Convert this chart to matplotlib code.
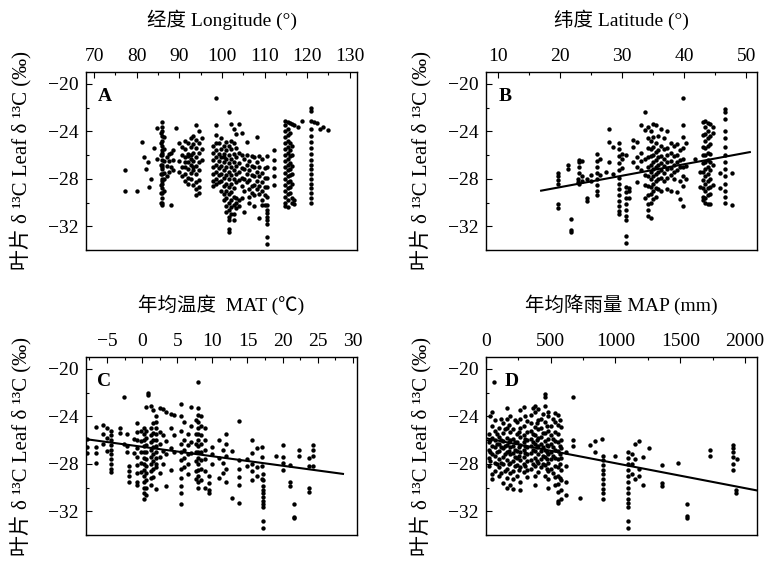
import matplotlib
matplotlib.use("Agg")
import matplotlib.pyplot as plt
from matplotlib.ticker import MultipleLocator, FixedLocator

plt.rcParams['font.family'] = ['Liberation Serif', 'Noto Sans CJK SC']

# leaf d13C, grouped as (x, [d13C values]) columns
lon_cols = [
    (77.3, [-27.3, -29.0]), (80.0, [-29.0]), (81.2, [-24.9]), (81.7, [-26.2]),
    (82.2, [-27.2]), (82.6, [-26.6]), (82.8, [-28.7]), (83.3, [-28.0]),
    (84.1, [-25.4]), (84.7, [-23.7, -26.3]),
    (85.6, [-24.1, -25.0, -26.0, -26.8, -27.6, -28.5, -29.2, -30.0]),
    (85.9, [-23.2, -23.6, -24.0, -24.4, -24.8, -25.2, -25.6, -26.0, -26.4, -26.8, -27.2,
            -27.6, -28.0, -28.4, -28.8, -29.2, -29.6, -30.0, -30.2, -28.2, -27.0, -25.8]),
    (86.4, [-24.5, -25.5, -26.5, -27.5, -28.0, -29.0]), (87.0, [-26.2, -27.8, -26.9]),
    (87.5, [-25.9, -27.4, -26.5]), (88.0, [-30.2, -25.8, -27.0]), (88.5, [-27.3, -26.4, -25.6]),
    (89.3, [-23.7]), (90.0, [-25.0, -26.5, -27.4]), (90.6, [-25.3, -26.0, -27.0, -27.8]),
    (91.3, [-24.8, -25.5, -26.2, -27.0, -27.6, -28.2, -26.6]),
    (92.0, [-25.0, -25.9, -26.6, -27.2, -27.9, -28.4, -26.1]),
    (92.7, [-24.6, -25.3, -26.0, -26.8, -27.5, -28.0, -26.3]),
    (93.3, [-25.1, -25.8, -26.5, -27.3, -27.0, -28.5, -24.4]),
    (94.0, [-23.5, -24.7, -25.4, -26.2, -26.9, -27.6, -28.3, -28.9, -29.4]),
    (94.6, [-24.0, -25.0, -25.8, -26.6, -27.3, -28.1, -28.7, -29.2]),
    (95.3, [-24.6, -25.5, -26.4]),
    (98.0, [-25.2, -25.8, -26.4, -27.0, -27.6, -28.2, -28.6]),
    (98.6, [-21.2, -23.5, -24.3, -25.0, -25.6, -26.2, -26.8, -27.4, -28.0, -28.4]),
    (99.2, [-25.0, -25.9, -26.5, -27.1, -27.7, -28.3]),
    (99.8, [-24.6, -25.5, -26.2, -26.9, -27.6, -28.2, -29.0]),
    (100.4, [-25.2, -25.9, -26.6, -27.3, -27.9, -28.6, -29.3, -29.8, -26.2]),
    (101.0, [-24.9, -25.6, -26.3, -27.0, -27.7, -28.4, -29.0, -29.6, -30.3, -30.8]),
    (101.6, [-22.4, -25.2, -26.0, -26.7, -27.4, -28.0, -28.7, -29.3, -30.0, -30.6, -31.2,
             -31.5, -32.2, -32.5]),
    (102.2, [-23.4, -24.8, -25.5, -26.3, -27.0, -27.7, -28.4, -29.1, -29.8, -30.4, -31.0]),
    (102.8, [-23.8, -25.0, -25.9, -26.6, -27.3, -28.0, -28.8, -29.5, -30.2, -31.0, -31.5]),
    (103.4, [-24.2, -25.4, -26.2, -26.9, -27.6, -28.3, -29.6, -30.0, -30.5]),
    (104.0, [-23.4, -25.8, -26.7, -27.4, -28.1, -29.8, -30.3]),
    (104.6, [-24.1, -26.0, -27.1, -27.9, -28.6, -29.6]),
    (105.2, [-26.3, -27.2, -28.0, -29.0, -30.8]),
    (105.8, [-24.9, -26.0, -26.8, -27.6, -28.3]),
    (106.4, [-26.5, -27.3, -28.1, -28.9, -29.5, -30.0]),
    (107.0, [-26.1, -26.9, -27.7, -28.6, -29.2]),
    (107.6, [-26.2, -27.0, -27.8, -28.5, -29.4, -30.3]),
    (108.2, [-24.5, -26.6, -27.4, -28.2, -28.9]),
    (108.8, [-26.1, -27.0, -27.8, -28.6, -29.3, -31.3]),
    (109.4, [-26.3, -27.5, -28.3, -29.0, -29.8, -30.2]),
    (110.0, [-27.1, -27.9, -28.7, -29.4, -30.2]),
    (110.6, [-26.1, -27.0, -27.9, -28.7, -29.5, -30.2, -30.6, -30.9, -31.2, -31.5, -31.8,
             -32.9, -33.5]),
    (112.3, [-25.6, -26.4, -27.1, -27.8, -28.5]),
    (114.9, [-23.1, -23.5, -24.0, -24.5, -25.0, -25.5, -26.0, -26.5, -27.0, -27.5, -28.0,
             -28.5, -29.0, -29.5, -30.0, -30.3]),
    (115.4, [-23.2, -23.8, -24.3, -24.8, -25.3, -25.8, -26.3, -26.8, -27.3, -27.8, -28.3,
             -28.8, -29.3, -29.8, -30.4]),
    (115.9, [-23.3, -24.1, -25.0, -25.6, -26.1, -26.7, -27.2, -27.7, -28.2, -28.7, -29.2]),
    (116.4, [-23.4, -25.2, -26.0, -26.9, -27.6, -28.4, -29.6, -30.0]),
    (116.8, [-29.8, -30.1, -23.5]), (117.8, [-23.6]), (118.8, [-23.1]),
    (120.9, [-22.0, -22.3, -23.1, -23.8, -24.4, -24.9, -25.4, -25.9, -26.4, -26.8, -27.2,
             -27.6, -28.0, -28.4, -28.8, -29.2, -29.6, -30.0]),
    (121.6, [-23.2]), (122.2, [-23.3]), (123.1, [-23.8]), (123.7, [-23.6]), (125.0, [-23.9]),
]

lat_cols = [
    (19.7, [-27.5, -27.8, -28.1, -28.4, -30.1, -30.5]), (21.3, [-26.8, -27.2]),
    (21.7, [-31.4, -32.3, -32.5]), (22.8, [-28.3, -28.0]),
    (23.0, [-26.4, -26.6, -27.0, -27.5, -28.4]), (23.5, [-26.5, -27.8, -28.2]),
    (24.3, [-29.6, -29.9, -28.0]), (24.9, [-28.2, -27.7]),
    (26.0, [-25.9, -26.5, -27.0, -27.5, -28.0, -28.5, -29.0, -29.4]), (26.4, [-26.3, -27.7]),
    (27.4, [-27.4]), (27.9, [-23.8, -24.9, -26.6]), (28.5, [-25.3, -27.6]),
    (29.5, [-25.0, -25.5, -26.1, -26.7, -27.3, -27.9, -28.4, -28.9, -29.4, -29.9, -30.3,
            -30.7, -31.0]),
    (29.9, [-25.9, -26.3, -27.1]),
    (30.6, [-28.7, -29.1, -29.6, -30.1, -30.6, -31.1, -31.5, -32.8, -33.4, -26.0]),
    (31.1, [-28.8, -29.0, -29.6]), (31.8, [-24.7, -25.3, -26.6]),
    (32.4, [-24.9, -26.2, -27.0, -28.3]), (33.0, [-23.5, -25.8, -26.5, -27.3]),
    (33.7, [-22.4, -23.9, -26.3, -27.7, -28.5, -29.6]),
    (34.2, [-23.6, -24.6, -25.4, -26.2, -27.0, -27.8, -28.6, -29.4, -30.1, -30.6, -31.1]),
    (34.6, [-24.0, -24.8, -25.5, -26.1, -26.8, -27.4, -28.0, -28.7, -29.3, -30.0, -31.3]),
    (35.0, [-23.4, -24.5, -25.3, -26.0, -26.6, -27.2, -27.8, -28.4, -29.0, -29.7]),
    (35.4, [-23.5, -25.0, -25.7, -26.4, -27.0, -27.6, -28.2, -28.8, -29.5]),
    (35.8, [-24.4, -25.6, -26.2, -26.8, -27.4, -28.0, -28.9]),
    (36.3, [-23.8, -25.2, -26.1, -26.7, -27.3, -27.9, -29.0]),
    (36.8, [-24.6, -25.5, -26.3, -26.9, -27.5, -28.2]),
    (37.3, [-24.0, -25.4, -26.0, -26.6, -27.2, -27.9, -28.9]),
    (37.8, [-25.0, -25.8, -26.5, -27.1, -27.7, -29.0]),
    (38.3, [-25.2, -26.1, -26.8, -27.4, -28.0]),
    (38.8, [-25.1, -26.0, -26.6, -27.3, -29.1]),
    (39.3, [-25.6, -26.4, -27.0, -28.2, -29.7]),
    (39.8, [-21.2, -23.5, -24.5, -25.4, -26.3, -27.0, -27.8, -28.6, -30.3]),
    (40.3, [-25.0, -26.9, -28.0]), (41.8, [-26.3]), (42.6, [-28.7, -27.4]),
    (43.0, [-23.2, -24.3, -25.3, -26.0, -26.7, -27.4, -28.1, -28.8, -29.5, -29.8]),
    (43.4, [-23.1, -23.6, -24.2, -24.8, -25.4, -26.0, -26.6, -27.2, -27.8, -28.4, -29.0,
            -29.6, -30.0]),
    (43.8, [-23.3, -24.0, -24.6, -25.2, -25.8, -26.4, -27.0, -27.6, -28.2, -28.8, -29.4,
            -30.1]),
    (44.2, [-23.4, -24.4, -25.1, -25.9, -26.6, -27.3, -28.0, -28.7, -29.3, -30.1]),
    (44.7, [-23.6, -24.1, -26.8, -28.5]), (45.8, [-27.5, -28.8]),
    (46.6, [-22.1, -22.4, -23.0, -24.0, -24.6, -25.3, -26.0, -26.6, -27.2, -27.8, -28.4,
            -29.0, -29.5, -30.0]),
    (47.7, [-27.5, -30.2]),
]

mat_cols = [
    (-7.8, [-25.9, -26.6, -27.1]), (-6.6, [-24.9, -26.6, -27.1, -27.9]),
    (-5.6, [-24.7, -25.5, -26.3]), (-5.0, [-25.0, -25.8, -26.9]),
    (-4.4, [-25.2, -25.6, -26.0, -26.4, -26.8, -27.2, -27.6, -28.0, -28.4, -28.7]),
    (-3.2, [-25.0, -25.4]), (-2.6, [-22.4, -26.3]), (-2.2, [-25.5, -26.5, -27.0]),
    (-1.9, [-28.2, -28.6, -29.0, -29.5]), (-1.2, [-25.9, -27.1]),
    (-0.8, [-24.6, -25.3, -26.0, -26.7, -27.4, -28.1, -28.8, -29.5, -29.8]),
    (-0.2, [-25.2, -26.1, -27.0, -27.9, -28.7]),
    (0.2, [-25.0, -25.5, -26.0, -26.5, -27.0, -27.5, -28.0, -28.5, -29.0, -29.5, -30.0,
           -30.5, -31.0]),
    (0.6, [-23.2, -25.2, -25.8, -26.4, -27.0, -27.6, -28.2, -28.8, -29.4, -30.0, -30.6]),
    (0.8, [-22.0, -22.2]),
    (1.2, [-23.1, -25.0, -25.6, -26.2, -26.8, -27.4, -28.0, -28.6, -29.2, -29.8]),
    (1.6, [-23.5, -24.6, -25.4, -26.0, -26.6, -27.2, -27.8, -28.4, -29.1]),
    (2.0, [-24.0, -24.5, -25.0, -25.5, -26.0, -26.5, -27.0, -27.5, -28.0, -28.3, -30.1]),
    (2.5, [-23.3, -25.3, -26.3, -27.4, -28.8]), (3.0, [-23.4, -25.6, -26.9, -28.0]),
    (3.4, [-23.6, -26.1, -27.2, -29.9]), (4.1, [-23.8, -25.0, -26.7, -28.5]),
    (4.6, [-23.9, -25.6, -27.0]),
    (5.5, [-23.0, -24.0, -25.2, -26.3, -27.0, -27.7, -28.4, -29.2, -29.9, -30.5, -31.4]),
    (6.0, [-24.5, -26.0, -26.8, -27.5, -28.3]), (6.5, [-25.5, -26.4, -27.2, -28.0, -28.9]),
    (6.9, [-23.2, -24.8, -26.2, -27.1]),
    (7.6, [-24.3, -25.5, -26.3, -27.0, -27.8, -28.6, -29.3]),
    (8.0, [-21.1, -23.3, -23.9, -24.5, -25.0, -25.5, -26.0, -26.5, -27.0, -27.5, -28.0,
           -28.5, -29.0, -29.5, -30.0]),
    (8.4, [-24.0, -24.8, -25.6, -26.3, -27.0, -27.7, -28.4, -29.4]),
    (9.0, [-25.0, -26.0, -26.8, -27.6, -28.6, -30.0]), (9.5, [-29.0, -29.6, -30.2, -30.5]),
    (10.0, [-26.6, -27.2, -28.0]), (10.9, [-26.0, -27.5, -29.2]),
    (11.5, [-26.8, -27.9, -28.8]), (12.0, [-25.5, -26.3, -27.3, -28.4, -29.5]),
    (12.8, [-26.9, -30.9]), (13.8, [-24.4, -27.7, -28.4, -29.1, -29.8, -31.3]),
    (15.0, [-27.6, -28.2]), (15.6, [-26.0, -27.1, -28.0, -28.6, -29.4]),
    (16.4, [-26.7, -28.3, -29.0]), (17.0, [-26.6, -27.4, -28.2, -29.3]),
    (17.2, [-28.9, -29.4, -29.9, -30.2, -30.5, -30.8, -31.1, -31.4, -31.6, -32.8, -33.4]),
    (19.1, [-27.3]), (20.0, [-26.4, -27.4, -27.9, -28.5]), (21.0, [-28.1, -29.5, -29.9]),
    (21.6, [-31.4, -32.5, -32.6]), (22.4, [-26.8, -27.3]),
    (23.8, [-27.5, -28.2, -30.0, -30.4]), (24.4, [-26.4, -26.8, -27.3, -28.2]),
]

map_cols = [
    (20, [-25.5, -26.2, -26.8, -27.5, -28.2]), (64, [-21.1]),
    (30, [-24.0, -26.0, -27.0, -27.8]),
    (45, [-23.6, -24.8, -25.8, -26.5, -27.2, -28.9, -29.3]),
    (70, [-24.3, -25.2, -26.0, -26.6, -27.3, -27.9, -28.6]),
    (85, [-25.5, -26.3, -27.0, -28.0]),
    (100, [-25.0, -25.7, -26.3, -26.9, -27.6, -28.3, -29.0]),
    (115, [-24.2, -26.0, -26.6, -27.9, -28.8]),
    (130, [-24.6, -25.4, -26.1, -26.7, -27.4, -28.0, -29.6]),
    (145, [-25.1, -26.5, -27.2, -28.6]),
    (160, [-23.3, -24.2, -25.0, -25.8, -26.4, -27.0, -27.7, -28.4, -29.2, -30.0]),
    (175, [-24.7, -26.2, -26.9, -28.0]),
    (185, [-24.0, -25.3, -26.0, -26.6, -27.2, -27.9, -28.8, -29.8]),
    (210, [-25.1, -25.9, -26.5, -27.1, -27.8, -28.6, -29.3, -30.1]),
    (225, [-24.3, -26.2, -26.8, -27.4, -28.2]),
    (240, [-24.5, -25.5, -26.2, -26.9, -27.5, -28.1, -29.0]),
    (255, [-25.3, -26.6, -27.3, -28.5]),
    (265, [-23.5, -24.2, -25.0, -25.7, -26.4, -27.0, -27.7, -28.3, -29.5, -30.2]),
    (290, [-23.2, -24.8, -25.6, -26.2, -26.8, -27.4, -28.0, -28.7]),
    (305, [-24.0, -25.9, -26.5, -27.1, -28.2]),
    (320, [-24.4, -25.3, -26.0, -26.6, -27.2, -27.8, -28.5, -29.1]),
    (345, [-23.9, -24.6, -25.2, -25.9, -26.5, -27.1, -27.7, -28.4]),
    (360, [-23.3, -25.5, -26.2, -26.8, -28.0]),
    (375, [-23.1, -23.6, -24.9, -25.6, -26.3, -26.9, -27.5, -28.2, -29.0, -29.8]),
    (390, [-24.6, -26.0, -26.6, -27.8]),
    (400, [-23.4, -24.3, -25.1, -25.8, -26.5, -27.2, -27.9, -28.7]),
    (425, [-24.2, -25.0, -25.7, -26.3, -26.9, -27.6, -28.3]),
    (440, [-23.8, -25.4, -26.6, -27.3, -28.0]),
    (455, [-22.1, -22.4, -23.1, -24.5, -25.4, -26.1, -26.8, -27.4, -28.1, -29.0]),
    (470, [-24.8, -26.4, -27.0, -27.6, -28.4]),
    (480, [-23.6, -24.0, -25.2, -25.9, -26.5, -27.2, -27.9, -28.6, -29.3, -30.0]),
    (505, [-24.8, -25.6, -26.3, -27.0, -27.6, -28.4]),
    (520, [-24.2, -25.9, -26.6, -27.3, -28.8]),
    (530, [-23.7, -24.5, -25.3, -26.1, -26.8, -27.5, -28.2, -29.1, -29.8]),
    (555, [-23.9, -24.7, -25.5, -26.2, -26.9, -27.6, -28.3, -29.0, -29.7, -30.4, -31.1,
           -31.3]),
    (570, [-24.3, -26.5, -27.2, -28.0, -29.2]),
    (580, [-24.9, -26.0, -26.7, -27.5, -28.5, -29.4, -30.2, -31.0]),
    (620, [-27.0, -28.2, -29.5, -30.6]), (675, [-22.4, -26.0, -26.5]), (725, [-30.9]),
    (803, [-26.4]), (840, [-26.1, -27.0]), (893, [-25.9]),
    (906, [-27.3, -27.7, -28.1, -28.5, -28.9, -29.3, -29.7, -30.1, -30.5, -31.0]),
    (996, [-27.3]),
    (1099, [-27.0, -27.5, -28.0, -28.5, -29.0, -29.5, -30.0, -30.5, -31.0, -31.3, -31.6,
            -32.8, -33.4]),
    (1125, [-27.2, -28.0, -28.9]), (1150, [-26.3, -27.6, -29.3]), (1180, [-26.1, -28.4, -29.0]),
    (1215, [-27.4, -29.8]), (1261, [-26.7]), (1356, [-28.1, -29.6, -29.9]),
    (1485, [-27.9]), (1550, [-31.4, -32.4, -32.6]), (1730, [-26.8, -27.3]),
    (1910, [-26.4, -26.7, -27.0, -27.4, -28.0, -28.5]), (1935, [-27.6]),
    (1930, [-30.2, -30.5]),
]

fit_lat = ([16.9, 50.6], [-29.0, -25.75])
fit_mat = ([-7.8, 28.6], [-25.94, -28.85])
fit_map = ([0, 2095], [-25.85, -30.25])

titles = ['经度 Longitude (°)', '纬度 Latitude (°)', '年均温度  MAT (℃)', '年均降雨量 MAP (mm)']
letters = ['A', 'B', 'C', 'D']
xlims = [(68.1, 131.7), (8.0, 51.8), (-8.0, 30.6), (0, 2095)]
xmajor = [[70, 80, 90, 100, 110, 120, 130], [10, 20, 30, 40, 50],
          [-5, 0, 5, 10, 15, 20, 25, 30], [0, 500, 1000, 1500, 2000]]
xminor = [5, 5, 2.5, 250]
yticks = [-20, -24, -28, -32]
ylabel = '叶片 δ ¹³C Leaf δ ¹³C (‰)'


def expand(cols):
    xs, ys = [], []
    for x, vals in cols:
        for v in vals:
            xs.append(x)
            ys.append(v)
    return xs, ys


fig = plt.figure(figsize=(7.65, 5.65), dpi=100)
boxes = [[0.1124, 0.5575, 0.3543, 0.3151], [0.6353, 0.5575, 0.3546, 0.3151],
         [0.1124, 0.0531, 0.3543, 0.3150], [0.6353, 0.0531, 0.3546, 0.3150]]
letter_x = [0.045, 0.045, 0.04, 0.07]
data = [lon_cols, lat_cols, mat_cols, map_cols]
fits = [None, fit_lat, fit_mat, fit_map]

for i in range(4):
    ax = fig.add_axes(boxes[i])
    xs, ys = expand(data[i])
    ax.scatter(xs, ys, s=10, c='black', linewidths=0, zorder=3)
    if fits[i] is not None:
        ax.plot(fits[i][0], fits[i][1], color='black', lw=1.5, zorder=4)
    ax.set_xlim(*xlims[i])
    ax.set_ylim(-34, -19)
    ax.xaxis.set_major_locator(FixedLocator(xmajor[i]))
    ax.xaxis.set_minor_locator(MultipleLocator(xminor[i]))
    ax.yaxis.set_major_locator(FixedLocator(yticks))
    ax.yaxis.set_minor_locator(MultipleLocator(2))
    ax.tick_params(which='both', direction='in', top=True, bottom=False, left=True,
                   right=False, labeltop=True, labelbottom=False, labelsize=14, pad=5)
    ax.tick_params(which='major', length=4, width=0.8)
    ax.tick_params(which='minor', length=2, width=0.8)
    ax.xaxis.set_label_position('top')
    ax.set_xlabel(titles[i], fontsize=14, labelpad=16)
    ax.set_ylabel(ylabel, fontsize=15, labelpad=12)
    for sp in ax.spines.values():
        sp.set_linewidth(1.0)
    ax.text(letter_x[i], 0.86, letters[i], transform=ax.transAxes, fontsize=14,
            fontweight='bold', va='center', ha='left')

fig.savefig('out.png', dpi=100)
